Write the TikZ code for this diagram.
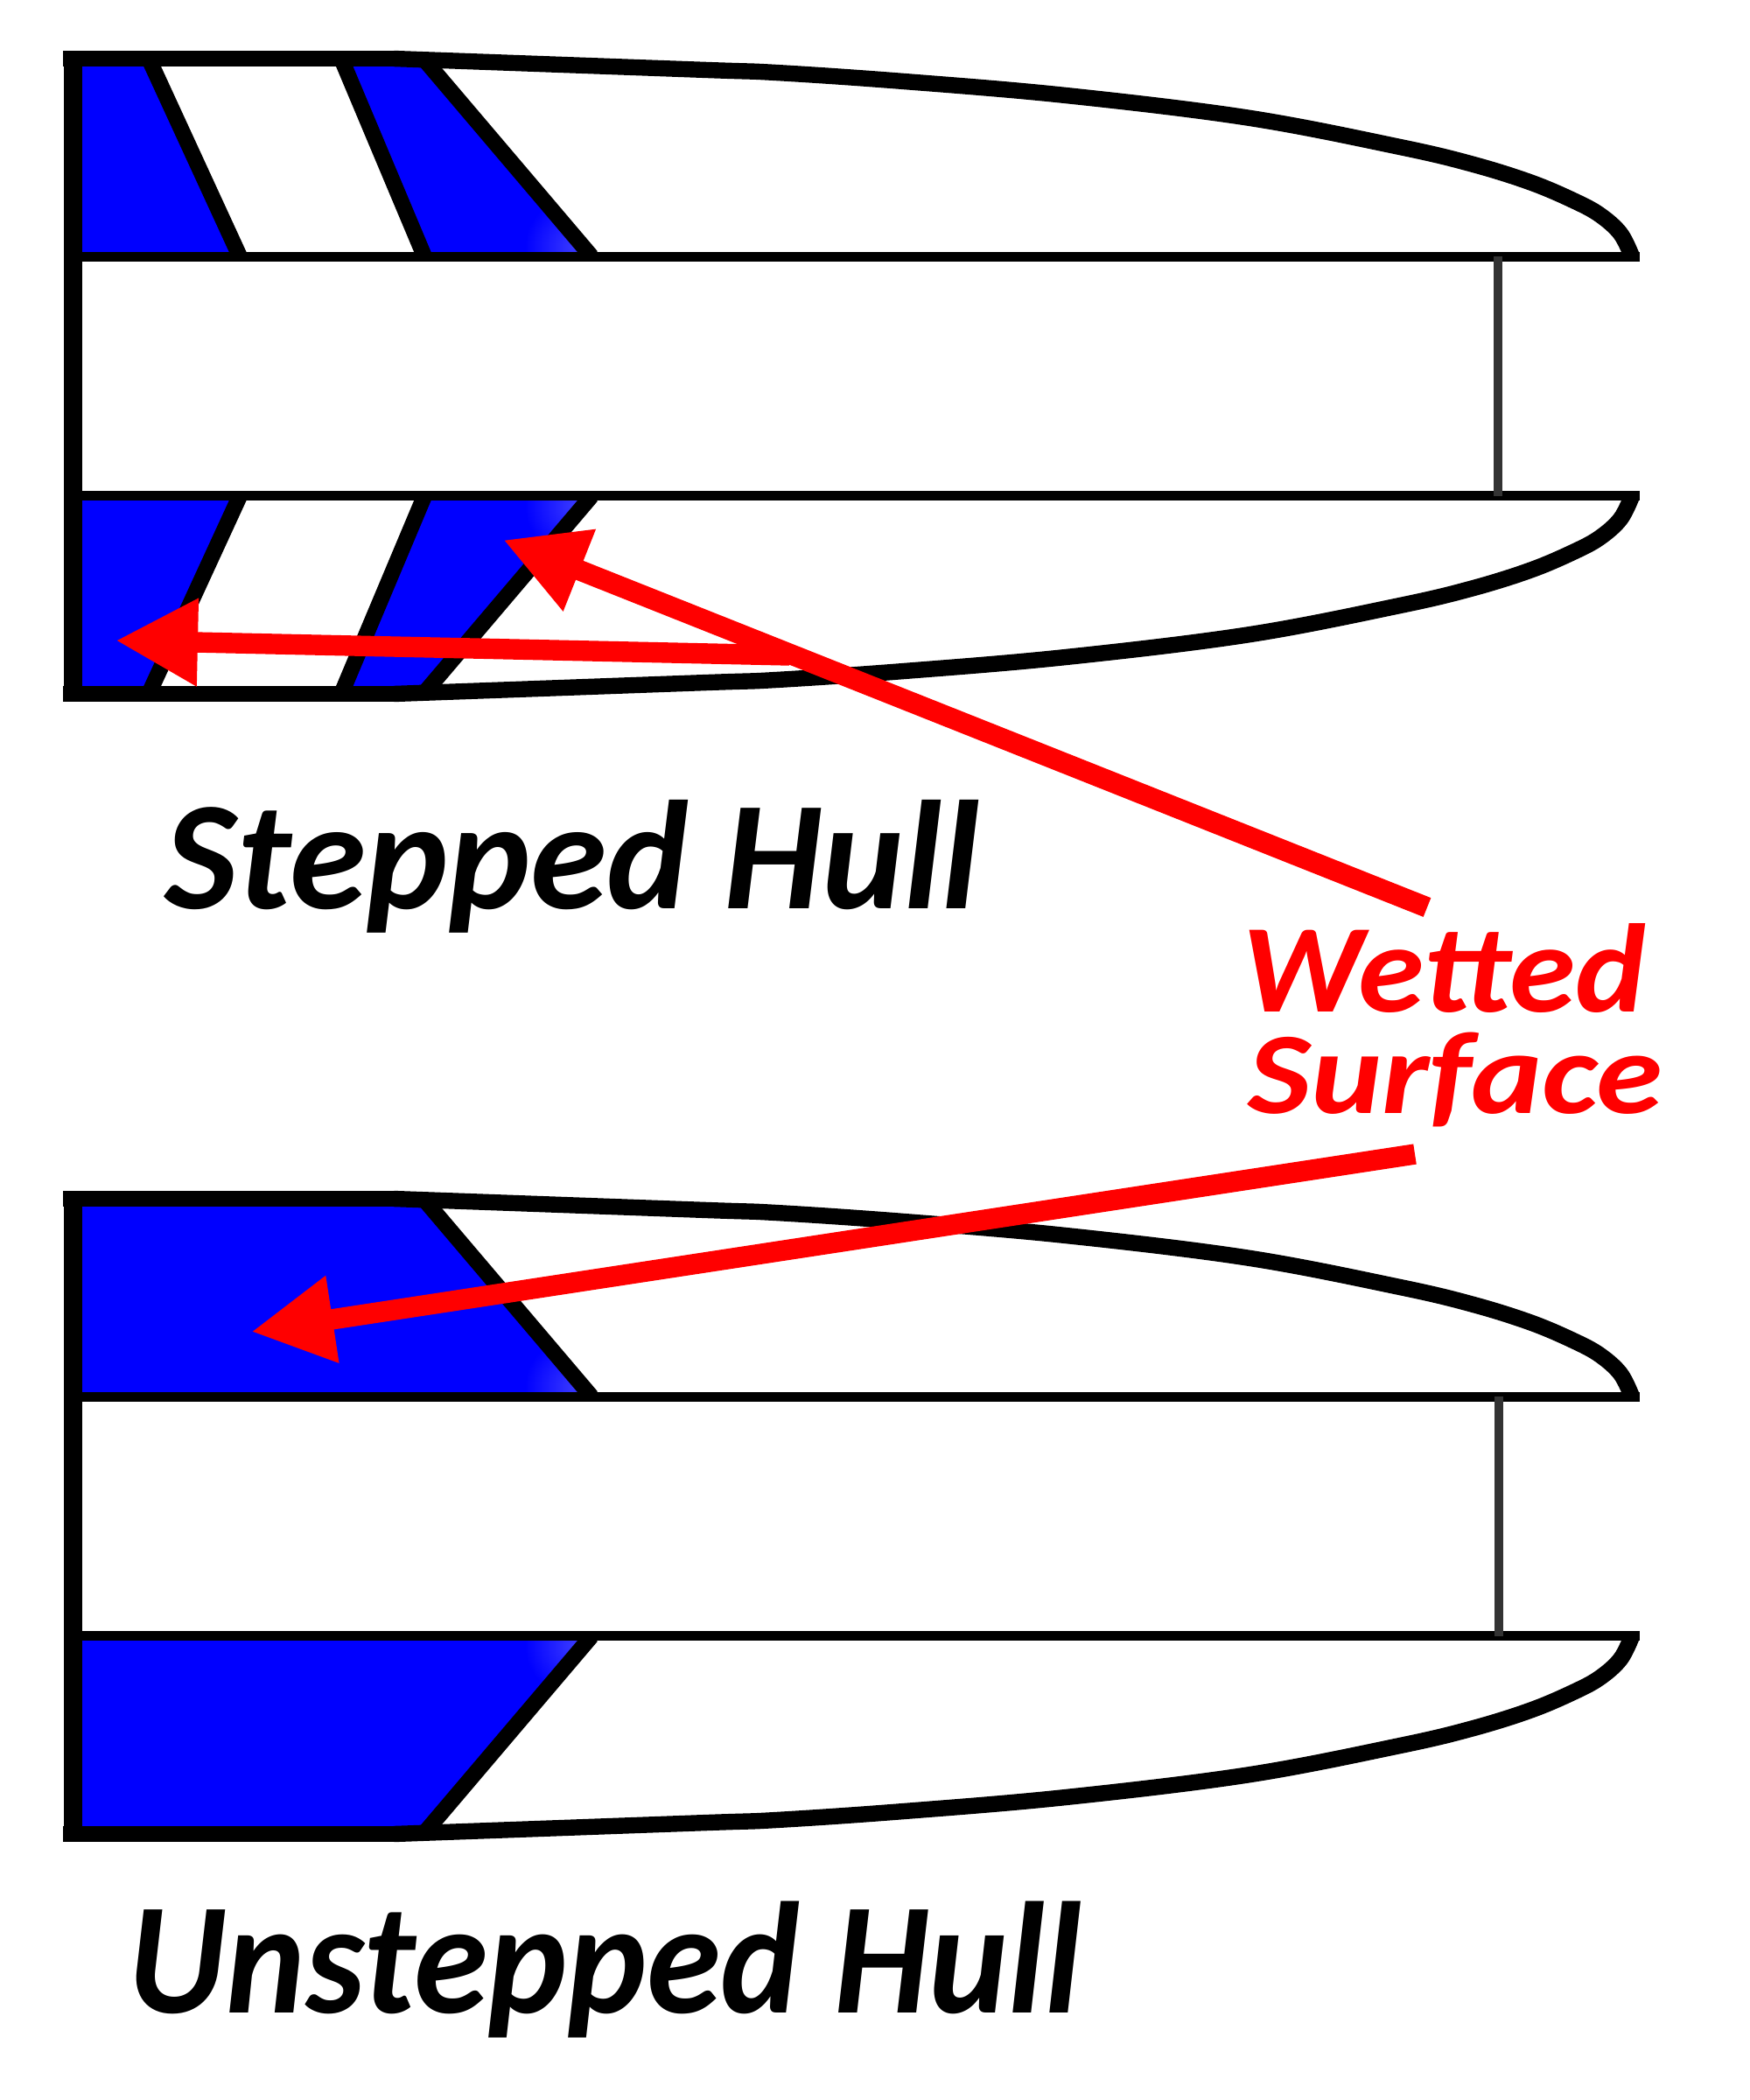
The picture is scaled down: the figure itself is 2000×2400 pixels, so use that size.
\documentclass[tikz,border=0pt]{standalone}
\usepackage{graphicx}
\usepackage{fontspec}
\usetikzlibrary{arrows.meta}
\newfontfamily\handfont[BoldItalicFont={Carlito Bold Italic}]{Carlito}
\definecolor{hullblue}{HTML}{0000FF}
\definecolor{hullfade}{HTML}{3838FF}
\definecolor{hullred}{HTML}{FF0000}
\definecolor{hullgrey}{HTML}{333333}
\tikzset{
  x=0.5pt,y=-0.5pt,
  band/.style={black,line width=8.6pt},
  thinline/.style={black,line width=5.2pt},
  hullside/.style={black,line width=9.2pt,line join=round},
  diag/.style={black,line width=9pt},
  bar/.style={black,line width=10.3pt},
  wet/.style={fill=hullblue,draw=none},
  keel/.style={hullgrey,line width=5pt},
  pointer/.style={hullred,line width=11.7pt,-{Triangle[length=47pt,width=47pt]}},
  label/.style={inner sep=0pt,anchor=north west,font=\handfont\bfseries\itshape},
}
\newcommand{\hullcurve}{%
  \draw[band] (72,67) -- (457,67);
  \draw[hullside] plot[smooth,tension=0.6] coordinates {(450,67) (800,79.7) (887,83) (1033,93) (1218,109) (1427,134.7) (1600,168) (1683,187.7) (1750,208.7) (1800,230) (1829,246) (1852,267) (1865,293)};
  \draw[thinline] (85,293.4) -- (1874,293.4);
}
\newcommand{\cornerfade}[1]{%
  \begin{scope}
    \clip #1;
    \shade[inner color=hullfade,outer color=hullblue] (656,282) circle (56);
  \end{scope}
}
\newcommand{\halfstepped}{%
  \fill[wet] (84,67) -- (170,67) -- (274,293) -- (84,293) -- cycle;
  \fill[wet] (390,67) -- (484,67) -- (676,293) -- (485,293) -- cycle;
  \cornerfade{(390,67) -- (484,67) -- (676,293) -- (485,293) -- cycle}
  \hullcurve
  \draw[diag] (170,67) -- (274,293);
  \draw[diag] (390,67) -- (485,293);
  \draw[diag] (484,67) -- (676,293);
}
\newcommand{\halfplain}{%
  \fill[wet] (84,67) -- (484,67) -- (676,293) -- (84,293) -- cycle;
  \cornerfade{(84,67) -- (484,67) -- (676,293) -- (84,293) -- cycle}
  \hullcurve
  \draw[diag] (484,67) -- (676,293);
}
\begin{document}
\begin{tikzpicture}
\useasboundingbox[fill=white] (0,0) rectangle (2000,2400);
% stepped hull
\begin{scope}
  \halfstepped
  \begin{scope}[shift={(0,860)},yscale=-1]\halfstepped\end{scope}
  \draw[keel] (1712,293) -- (1712,567);
  \draw[bar] (83.5,58.5) -- (83.5,801);
\end{scope}
% unstepped hull
\begin{scope}[shift={(0,1303)}]
  \halfplain
  \begin{scope}[shift={(0,860)},yscale=-1]\halfplain\end{scope}
  \draw[keel] (1713,293) -- (1713,567);
  \draw[bar] (83.5,58.5) -- (83.5,801);
\end{scope}
% labels
\node[label] (stepped) at (188,914) {\resizebox*{466pt}{76pt}{Stepped Hull}};
\node[label] (unstepped) at (146,2173) {\resizebox*{545pt}{78pt}{Unstepped Hull}};
\node[label,text=hullred] (wetted) at (1419,1055) {\resizebox*{231pt}{51pt}{Wetted}};
\node[label,text=hullred] (surface) at (1426,1180) {\resizebox*{237pt}{54pt}{Surface}};
% pointers
\coordinate (t1) at (902,749);
\coordinate (h1) at (132,732);
\coordinate (t2) at (1631,1037);
\coordinate (h2) at (575,617);
\coordinate (t3) at (1617,1319);
\coordinate (h3) at (287,1522);
\draw[pointer] (t1) -- (h1);
\draw[pointer] (t2) -- (h2);
\draw[pointer] (t3) -- (h3);
\end{tikzpicture}
\end{document}
